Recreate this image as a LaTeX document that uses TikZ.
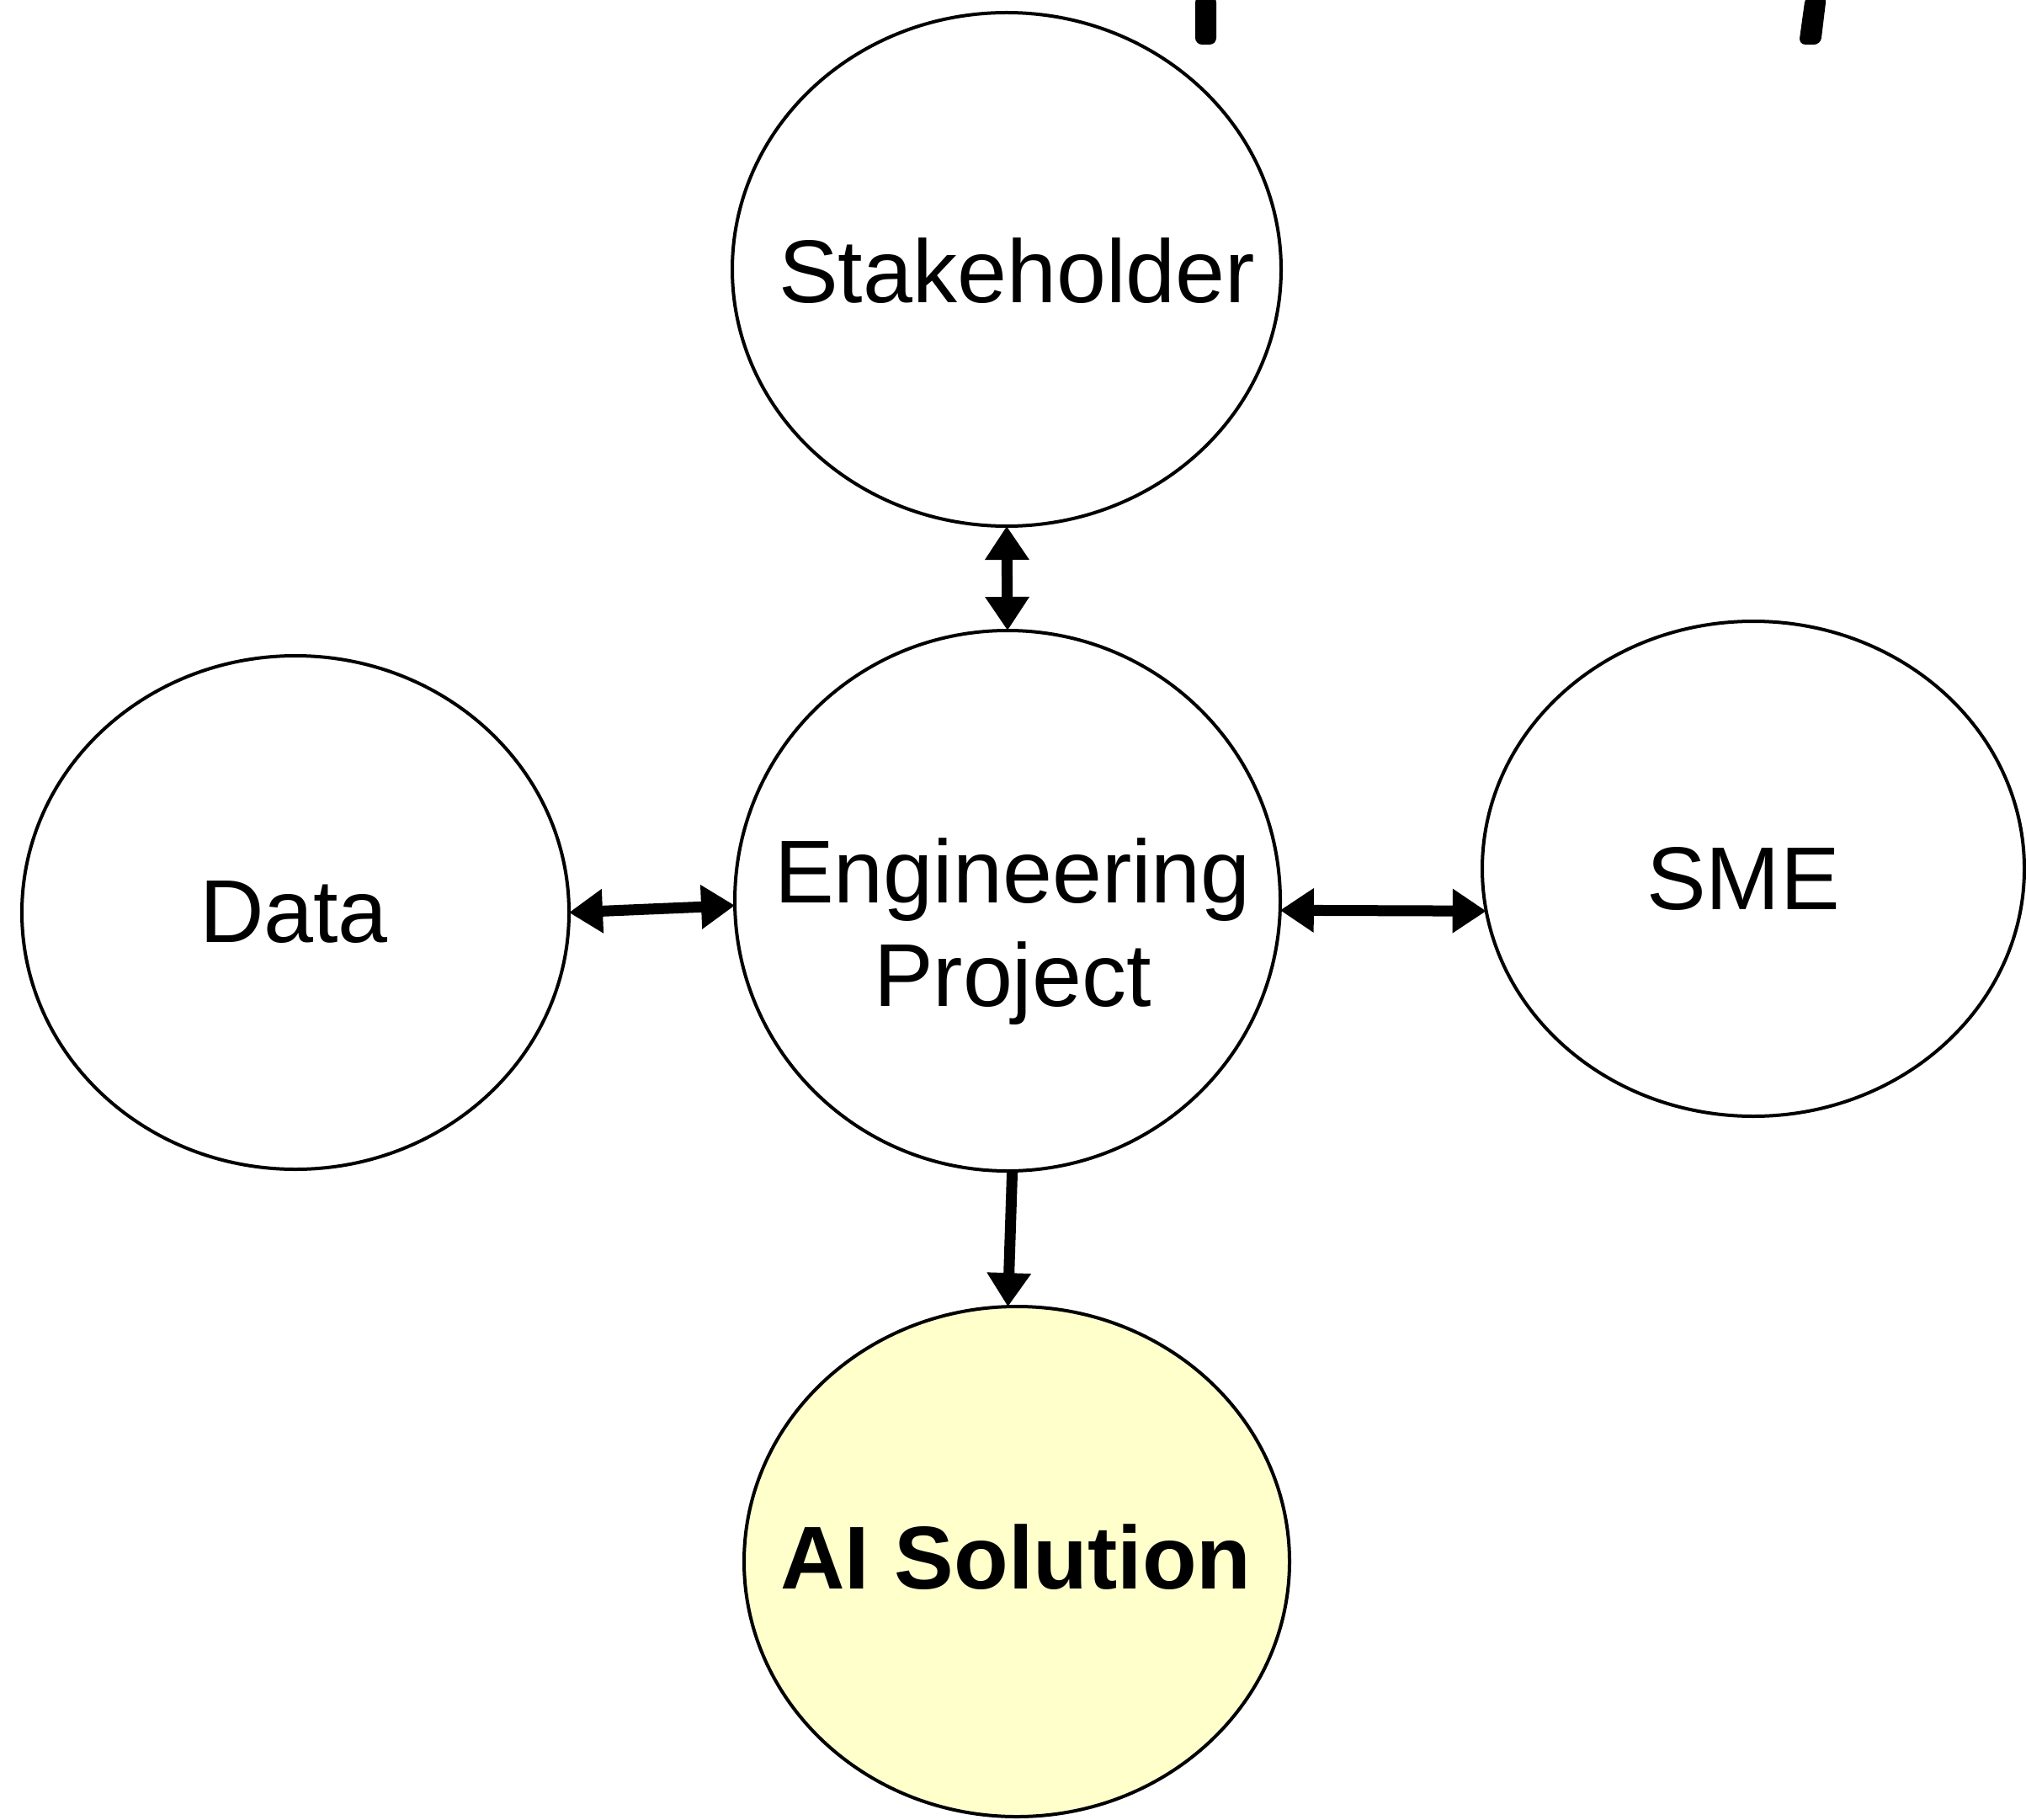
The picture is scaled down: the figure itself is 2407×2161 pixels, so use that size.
\documentclass[tikz,border=0pt]{standalone}
\usepackage{fontspec}
\setmainfont{Liberation Sans}
\usetikzlibrary{shapes,arrows.meta,calc}

\begin{document}
\begin{tikzpicture}
  [
    x=0.25pt, y=-0.25pt,
    bubble/.style =
      {ellipse, draw, line width=1pt, inner sep=0pt, outer sep=0pt},
    tag/.style =
      {font=\fontsize{26.5}{30.7}\selectfont, align=center, inner sep=0pt},
    tip/.tip = {Triangle[length=10pt, width=12.5pt]},
    both/.style = {line width=3.25pt, tip-tip},
    one/.style = {line width=3.25pt, -tip}
  ]
  \useasboundingbox (0, 0) rectangle (2407, 2161);

  \node [bubble, minimum width=163pt, minimum height=152.5pt] at (1196, 320)  (stake) {};
  \node [bubble, minimum width=162pt, minimum height=160.5pt] at (1197, 1070) (eng)   {};
  \node [bubble, minimum width=162.5pt, minimum height=152.5pt] at (351, 1084) (data) {};
  \node [bubble, minimum width=161pt, minimum height=147pt] at (2083, 1032)   (sme)   {};
  \node [bubble, fill={rgb,255:red,255;green,255;blue,204},
         minimum width=162pt, minimum height=151.5pt] at (1208, 1855)      (ai)    {};

  \node [tag] at (1208, 322) (staketxt) {Stakeholder};
  \node [tag, anchor=north] at (1203, 995) (engtxt) {Engineering\\Project};
  \node [tag] at (349, 1084) (datatxt) {Data};
  \node [tag] at (2071, 1044) (smetxt) {SME};
  \node [tag, font=\fontsize{26.5}{30.7}\selectfont\bfseries] at (1207, 1850) (aitxt) {AI Solution};

  \draw [both] (stake.south) -- (eng.north);
  \draw [both] (data.east) -- (eng.181);
  \draw [both] (eng.-2) -- (sme.189);
  \draw [one] (eng.-89) -- (ai.92);

  \fill [rounded corners=2pt] (1420, -5) -- (1445, -5) -- (1445, 53) -- (1420, 53) -- cycle;
  \fill [rounded corners=2pt] (2145, -5) -- (2170, -5) -- (2163, 53) -- (2137, 53) -- cycle;

\end{tikzpicture}
\end{document}
